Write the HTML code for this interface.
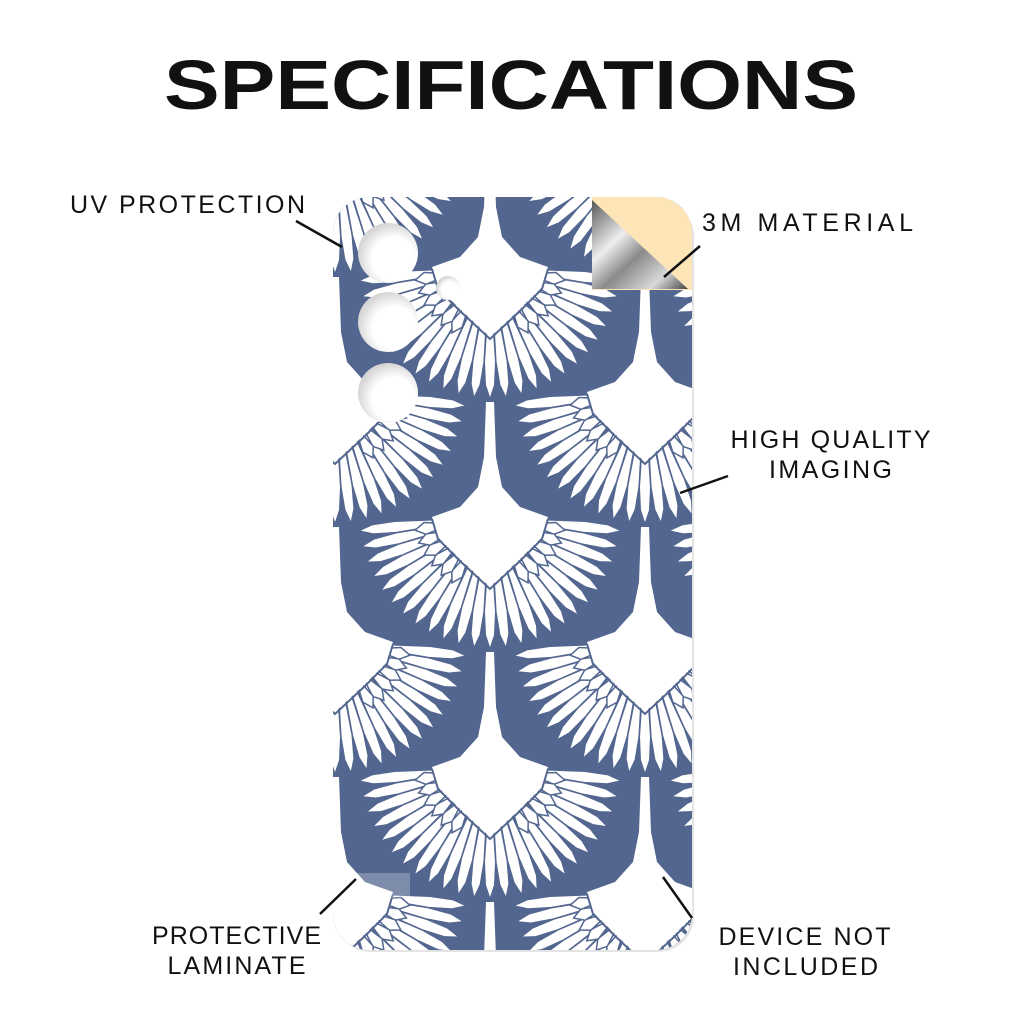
<!DOCTYPE html>
<html><head><meta charset="utf-8"><style>
html,body{margin:0;padding:0;background:#fff;width:1024px;height:1024px;overflow:hidden;}
svg{display:block;}
text{font-family:"Liberation Sans",sans-serif;fill:#111;}
</style></head><body>
<svg width="1024" height="1024" viewBox="0 0 1024 1024" xmlns="http://www.w3.org/2000/svg">
<defs>
  <clipPath id="phc"><path d="M369,197 H656 A36,36 0 0 1 692,233 V914 A36,36 0 0 1 656,950 H369 A36,36 0 0 1 333,914 V233 A36,36 0 0 1 369,197 Z"/></clipPath>
  <polygon id="fe" points="-2,50 2,50 5,95 4,118 0,130 -4,118 -5,95" fill="#ffffff"/>
  <polygon id="fs" points="-2,48 2,48 6,66 0,76 -6,66" fill="#ffffff" stroke="#52668f" stroke-width="1.5"/>
  <g id="fan">
    <use href="#fe" transform="rotate(-84)"/><use href="#fe" transform="rotate(-77)"/>
    <use href="#fe" transform="rotate(-70)"/><use href="#fe" transform="rotate(-63)"/>
    <use href="#fe" transform="rotate(-56)"/><use href="#fe" transform="rotate(-49)"/>
    <use href="#fe" transform="rotate(-42)"/><use href="#fe" transform="rotate(-35)"/>
    <use href="#fe" transform="rotate(-28)"/><use href="#fe" transform="rotate(-21)"/>
    <use href="#fe" transform="rotate(-14)"/><use href="#fe" transform="rotate(-7)"/>
    <use href="#fe" transform="rotate(0)"/><use href="#fe" transform="rotate(7)"/>
    <use href="#fe" transform="rotate(14)"/><use href="#fe" transform="rotate(21)"/>
    <use href="#fe" transform="rotate(28)"/><use href="#fe" transform="rotate(35)"/>
    <use href="#fe" transform="rotate(42)"/><use href="#fe" transform="rotate(49)"/>
    <use href="#fe" transform="rotate(56)"/><use href="#fe" transform="rotate(63)"/>
    <use href="#fe" transform="rotate(70)"/><use href="#fe" transform="rotate(77)"/>
    <use href="#fe" transform="rotate(84)"/>
    <use href="#fs" transform="rotate(-80)"/><use href="#fs" transform="rotate(-70)"/>
    <use href="#fs" transform="rotate(-60)"/><use href="#fs" transform="rotate(-50)"/>
    <use href="#fs" transform="rotate(-40)"/><use href="#fs" transform="rotate(-30)"/>
    <use href="#fs" transform="rotate(30)"/><use href="#fs" transform="rotate(40)"/>
    <use href="#fs" transform="rotate(50)"/><use href="#fs" transform="rotate(60)"/>
    <use href="#fs" transform="rotate(70)"/><use href="#fs" transform="rotate(80)"/>
    <polygon points="-4,-115 4,-115 6,-60 12,-30 30,-10 58,0 52,20 30,42 0,70 -30,42 -52,20 -58,0 -30,-10 -12,-30 -6,-60" fill="#ffffff"/>
    <polyline points="-58,2 -52,22 -30,44 0,72 30,44 52,22 58,2" fill="none" stroke="#52668f" stroke-width="2"/>
  </g>
  <linearGradient id="fold" x1="0" y1="0" x2="1" y2="1">
    <stop offset="0" stop-color="#555"/><stop offset="0.35" stop-color="#eee"/>
    <stop offset="0.55" stop-color="#8a8a8a"/><stop offset="0.8" stop-color="#d8d8d8"/><stop offset="1" stop-color="#444"/>
  </linearGradient>
  <radialGradient id="hole" cx="0.6" cy="0.6" r="0.6">
    <stop offset="0.6" stop-color="#fff"/><stop offset="1" stop-color="#d6d6d6"/>
  </radialGradient>
</defs>

<text x="511" y="109" font-size="70" font-weight="bold" text-anchor="middle" textLength="694" lengthAdjust="spacingAndGlyphs">SPECIFICATIONS</text>

<path d="M371,201 H658 A36,36 0 0 1 694,237 V916 A36,36 0 0 1 658,952 H371 A36,36 0 0 1 335,916 V237 A36,36 0 0 1 371,201 Z" fill="#e4e4e4"/>
<path d="M369,197 H656 A36,36 0 0 1 692,233 V914 A36,36 0 0 1 656,950 H369 A36,36 0 0 1 333,914 V233 A36,36 0 0 1 369,197 Z" fill="#52668f"/>
<g clip-path="url(#phc)">
  <g transform="translate(180,17)"><use href="#fan"/></g>
  <g transform="translate(490,17)"><use href="#fan"/></g>
  <g transform="translate(800,17)"><use href="#fan"/></g>
  <g transform="translate(335,142)"><use href="#fan"/></g>
  <g transform="translate(645,142)"><use href="#fan"/></g>
  <g transform="translate(180,267)"><use href="#fan"/></g>
  <g transform="translate(490,267)"><use href="#fan"/></g>
  <g transform="translate(800,267)"><use href="#fan"/></g>
  <g transform="translate(335,392)"><use href="#fan"/></g>
  <g transform="translate(645,392)"><use href="#fan"/></g>
  <g transform="translate(180,517)"><use href="#fan"/></g>
  <g transform="translate(490,517)"><use href="#fan"/></g>
  <g transform="translate(800,517)"><use href="#fan"/></g>
  <g transform="translate(335,642)"><use href="#fan"/></g>
  <g transform="translate(645,642)"><use href="#fan"/></g>
  <g transform="translate(180,767)"><use href="#fan"/></g>
  <g transform="translate(490,767)"><use href="#fan"/></g>
  <g transform="translate(800,767)"><use href="#fan"/></g>
  <g transform="translate(335,892)"><use href="#fan"/></g>
  <g transform="translate(645,892)"><use href="#fan"/></g>
  <g transform="translate(490,1017)"><use href="#fan"/></g>
  <rect x="592" y="197" width="100" height="93" fill="#fde5b8"/>
  <polygon points="592,200 592,289 688,289" fill="url(#fold)"/>
  <rect x="335" y="873" width="75" height="25" fill="#fff" opacity="0.25"/>
</g>
<circle cx="388" cy="253" r="30" fill="url(#hole)"/>
<circle cx="388" cy="322" r="30" fill="url(#hole)"/>
<circle cx="388" cy="393" r="30" fill="url(#hole)"/>
<circle cx="448" cy="288" r="12" fill="url(#hole)"/>

<g font-size="25" letter-spacing="1">
<text x="188" y="213" text-anchor="middle" textLength="236">UV PROTECTION</text>
<text x="808" y="231" text-anchor="middle" textLength="212">3M MATERIAL</text>
<text x="831" y="448" text-anchor="middle" textLength="201">HIGH QUALITY</text>
<text x="831" y="478" text-anchor="middle" textLength="124">IMAGING</text>
<text x="237" y="944" text-anchor="middle" textLength="170">PROTECTIVE</text>
<text x="237" y="974" text-anchor="middle" textLength="139">LAMINATE</text>
<text x="805" y="945" text-anchor="middle" textLength="173">DEVICE NOT</text>
<text x="806" y="975" text-anchor="middle" textLength="146">INCLUDED</text>
</g>
<g stroke="#111" stroke-width="2.5">
<line x1="296" y1="221" x2="342" y2="247"/>
<line x1="700" y1="246" x2="664" y2="277"/>
<line x1="728" y1="476" x2="680" y2="493"/>
<line x1="320" y1="914" x2="356" y2="879"/>
<line x1="692" y1="918" x2="663" y2="877"/>
</g>
</svg>
</body></html>
